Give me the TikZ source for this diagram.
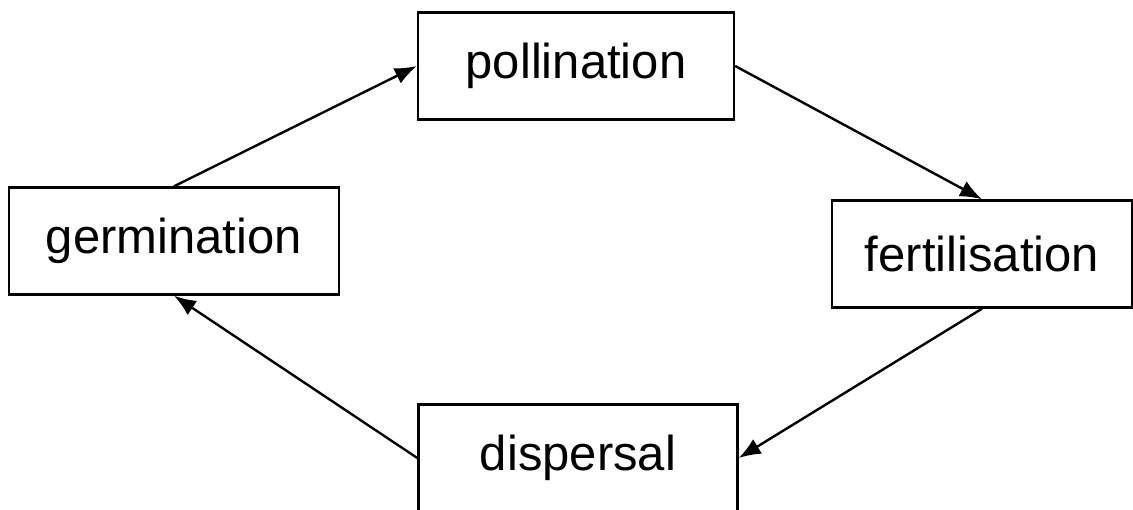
\documentclass[tikz,border=0pt]{standalone}
\usepackage{fontspec}
\setmainfont{Liberation Sans}
\usetikzlibrary{arrows.meta}
\begin{document}
\begin{tikzpicture}[x=1pt,y=-1pt,
  stage/.style={draw, line width=2.4pt, inner sep=0pt, minimum height=107pt,
    font=\fontsize{49}{58}\selectfont},
  flow/.style={-{Latex[length=22pt,width=17pt]}, line width=2.4pt}]
\clip (0,0) rectangle (1133,509);
\node (poll) [stage, minimum width=316pt] at (576,66) {pollination};
\node (germ) [stage, minimum width=330pt] at (174,241) {germination};
\node (fert) [stage, minimum width=300pt] at (982,254) {fertilisation};
\node (disp) [stage, minimum width=319pt] at (578,458) {dispersal};
\draw [flow] (germ.north) -- (poll.west);
\draw [flow] (poll.east) -- (fert.north);
\draw [flow] (fert.south) -- (disp.east);
\draw [flow] (disp.west) -- (germ.south);
\end{tikzpicture}
\end{document}
